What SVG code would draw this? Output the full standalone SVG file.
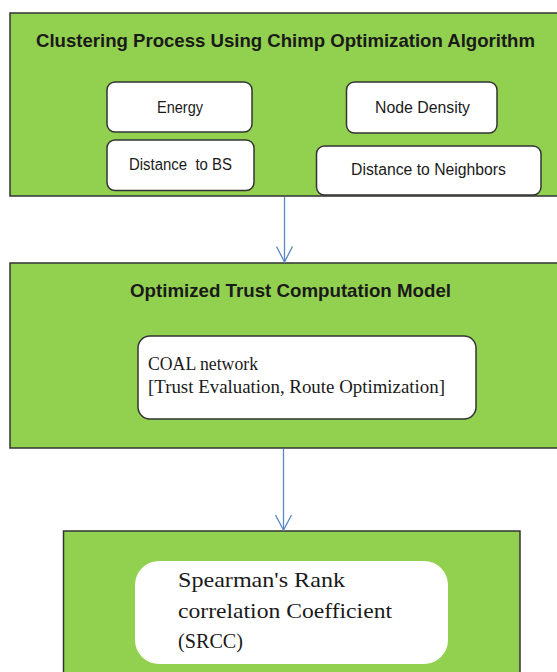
<svg xmlns="http://www.w3.org/2000/svg" width="557" height="672" viewBox="0 0 557 672">
<style>
.panel{fill:#92d050;stroke:#333;stroke-width:1.5}
.box{fill:#fff;stroke:#333;stroke-width:1.5}
.blob{fill:#fff;stroke:none}
.title{font-family:"Liberation Sans",Arial,sans-serif;font-weight:bold;fill:#1a1a1a}
.lbl{font-family:"Liberation Sans",Arial,sans-serif;font-size:16px;fill:#1a1a1a}
.serif{font-family:"Liberation Serif","Times New Roman",serif;fill:#1a1a1a}
.conn{stroke:#5b87c5;stroke-width:1.3;fill:none}
</style>
<rect width="557" height="672" fill="#fff"/>
<g id="clustering">
<rect class="panel" x="10" y="13" width="548" height="183"/>
<text class="title" x="36" y="47" font-size="18.5" textLength="499" lengthAdjust="spacingAndGlyphs">Clustering Process Using Chimp Optimization Algorithm</text>
<g id="energy">
<rect class="box" x="107" y="82" width="145" height="50" rx="8"/>
<text class="lbl" x="157" y="113" textLength="46" lengthAdjust="spacingAndGlyphs">Energy</text>
</g>
<g id="node-density">
<rect class="box" x="346.5" y="82" width="150.5" height="51" rx="8"/>
<text class="lbl" x="375" y="113" textLength="95" lengthAdjust="spacingAndGlyphs">Node Density</text>
</g>
<g id="distance-bs">
<rect class="box" x="107" y="140" width="147" height="50.5" rx="8"/>
<text class="lbl" x="129" y="170" textLength="103" lengthAdjust="spacingAndGlyphs" xml:space="preserve">Distance  to BS</text>
</g>
<g id="distance-neighbors">
<rect class="box" x="316.5" y="146" width="224.5" height="49" rx="8"/>
<text class="lbl" x="351" y="175" textLength="155" lengthAdjust="spacingAndGlyphs">Distance to Neighbors</text>
</g>
</g>
<g id="trust">
<rect class="panel" x="10" y="263" width="548" height="185"/>
<text class="title" x="130" y="297" font-size="19" textLength="321" lengthAdjust="spacingAndGlyphs">Optimized Trust Computation Model</text>
<g id="coal">
<rect class="box" x="138" y="336" width="338" height="83" rx="12"/>
<text class="serif" x="148" y="370" font-size="19" textLength="110" lengthAdjust="spacingAndGlyphs">COAL network</text>
<text class="serif" x="148" y="393" font-size="19" textLength="297" lengthAdjust="spacingAndGlyphs">[Trust Evaluation, Route Optimization]</text>
</g>
</g>
<g id="srcc">
<rect class="panel" x="63.5" y="531" width="456.5" height="160"/>
<rect class="blob" x="135" y="561" width="313" height="103" rx="24"/>
<text class="serif" x="178" y="587" font-size="22" textLength="167" lengthAdjust="spacingAndGlyphs">Spearman's Rank</text>
<text class="serif" x="178" y="618" font-size="22" textLength="214" lengthAdjust="spacingAndGlyphs">correlation Coefficient</text>
<text class="serif" x="178" y="648" font-size="22" textLength="65" lengthAdjust="spacingAndGlyphs">(SRCC)</text>
</g>
<g id="connectors">
<line class="conn" x1="284.5" y1="197" x2="284.5" y2="262"/>
<polyline class="conn" points="276.5,246.5 284.5,262 292.5,246.5"/>
<line class="conn" x1="283.5" y1="449" x2="283.5" y2="530"/>
<polyline class="conn" points="275.5,515 283.5,530 291.5,515"/>
</g>
</svg>
